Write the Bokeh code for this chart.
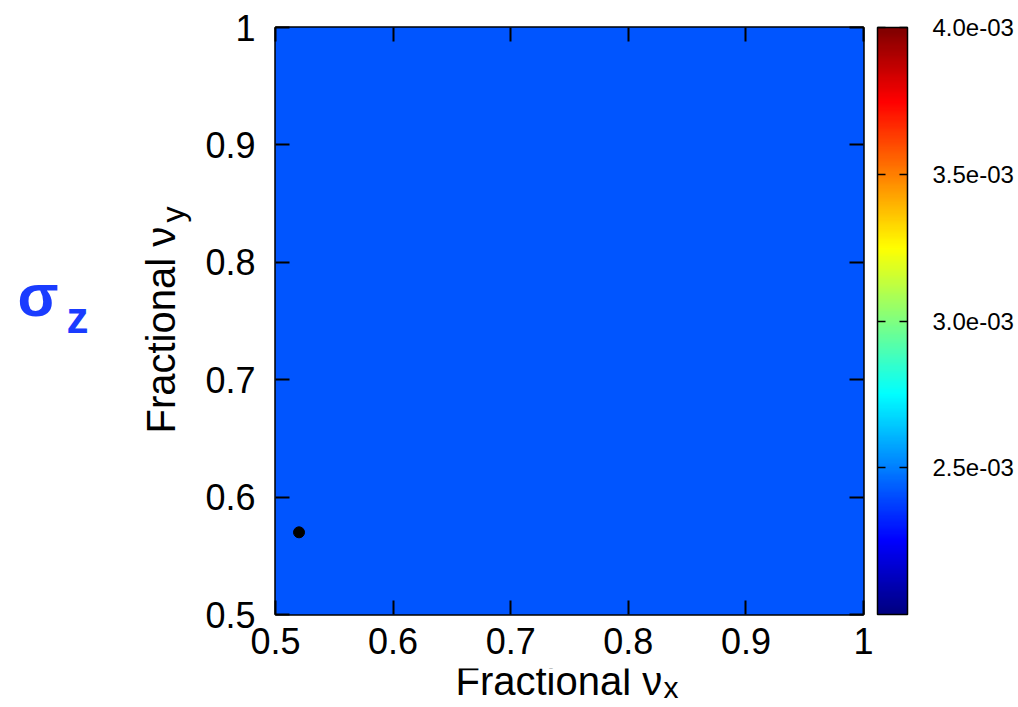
import numpy as np
from bokeh.plotting import figure
from bokeh.layouts import row, column
from bokeh.models import (LinearColorMapper, ColorBar, FixedTicker, LinearAxis,
                          CustomJSTickFormatter, Range1d, ColumnDataSource)
from bokeh.core.properties import value
from bokeh.embed import file_html
from bokeh.resources import INLINE

# Fractional tune scan window
nu_x_bounds = [0.5, 1.0]
nu_y_bounds = [0.5, 1.0]
tune_ticks = [0.5, 0.6, 0.7, 0.8, 0.9, 1.0]

# Bunch length sigma_z over the scan: flat across the whole tune window
grid_n = 40
sigma_z_level = 2.42e-3
sigma_z_map = np.full((grid_n, grid_n), sigma_z_level)

# colour scale
cbar_low = 2.0e-3
cbar_high = 4.0e-3
cbar_ticks = [2.5e-3, 3.0e-3, 3.5e-3, 4.0e-3]

# working point
wp_nu_x = [0.52]
wp_nu_y = [0.57]

FONT = "Liberation Sans"
TAG_BLUE = "#1a3cff"

# page geometry (pixels)
PAGE_H = 707
LEFT_W = 200          # strip holding the tag and the vertical title
MAIN_W = 818
MAIN_H = 668
STRIP_H = PAGE_H - MAIN_H
FRAME_L, FRAME_R = 275, 863   # horizontal extent of the heat-map frame on the page
DROP = 0.42           # rendered alphabetic baseline sits this many em lower


def jet_palette(n=256):
    cols = []
    for i in range(n):
        f = i / (n - 1)
        r = min(max(1.5 - abs(4 * f - 3), 0.0), 1.0)
        g = min(max(1.5 - abs(4 * f - 2), 0.0), 1.0)
        b = min(max(1.5 - abs(4 * f - 1), 0.0), 1.0)
        cols.append("#%02x%02x%02x" % (round(r * 255), round(g * 255), round(b * 255)))
    return cols


def text_panel(w, h, x_range):
    f = figure(width=w, height=h, x_range=x_range, y_range=Range1d(0, h),
               min_border=0, output_backend="svg", toolbar_location=None,
               x_axis_location=None, y_axis_location=None)
    f.grid.visible = False
    f.outline_line_color = None
    f.background_fill_color = "white"
    f.border_fill_color = "white"
    return f


def base(pos, size):
    """Baseline coordinate to request so the glyphs land on pixel `pos`."""
    return pos - DROP * size


mapper = LinearColorMapper(palette=jet_palette(), low=cbar_low, high=cbar_high)

# ---- main heat map ----
p = figure(width=MAIN_W, height=MAIN_H,
           x_range=Range1d(*nu_x_bounds), y_range=Range1d(*nu_y_bounds),
           min_border_left=FRAME_L - LEFT_W, min_border_top=27,
           min_border_bottom=MAIN_H - 27 - 587, min_border_right=155,
           output_backend="svg", toolbar_location=None,
           x_axis_location=None, y_axis_location=None)
p.grid.visible = False
p.background_fill_color = "white"
p.border_fill_color = "white"
p.outline_line_color = "black"
p.outline_line_width = 2.5

p.image(image=[sigma_z_map], x=nu_x_bounds[0], y=nu_y_bounds[0],
        dw=nu_x_bounds[1] - nu_x_bounds[0], dh=nu_y_bounds[1] - nu_y_bounds[0],
        color_mapper=mapper)

p.scatter(wp_nu_x, wp_nu_y, size=11, color="black")

tick_fmt = CustomJSTickFormatter(code="return tick >= 0.999 ? '1' : tick.toFixed(1);")
blank_fmt = CustomJSTickFormatter(code="return '\\u00a0';")


def make_axis(labelled, standoff):
    ax = LinearAxis(ticker=FixedTicker(ticks=tune_ticks),
                    formatter=tick_fmt if labelled else blank_fmt)
    ax.axis_line_color = None
    ax.major_tick_in = 14
    ax.major_tick_out = 0
    ax.major_tick_line_color = "black"
    ax.major_tick_line_width = 2
    ax.minor_tick_line_color = None
    ax.major_label_text_font = FONT
    ax.major_label_text_color = "black"
    ax.major_label_text_font_size = "36px" if labelled else "1px"
    ax.major_label_standoff = standoff
    return ax


p.add_layout(make_axis(True, 13), "below")
p.add_layout(make_axis(True, 20), "left")
p.add_layout(make_axis(False, 0), "above")
p.add_layout(make_axis(False, 11), "right")

cbar_fmt = CustomJSTickFormatter(
    code="var s = tick.toExponential(1); return s.replace(/e([+-])(\\d)$/, 'e$10$2');")
cbar = ColorBar(color_mapper=mapper, ticker=FixedTicker(ticks=cbar_ticks),
                formatter=cbar_fmt, width=30, height=587,
                location="top_left", margin=0, padding=0,
                label_standoff=25,
                major_label_text_font=FONT, major_label_text_font_size="24px",
                major_label_text_color="black",
                major_tick_in=30, major_tick_out=0,
                major_tick_line_color="black", major_tick_line_width=1.5,
                major_tick_line_dash="8 14",
                minor_tick_line_color=None,
                bar_line_color="black", bar_line_width=1.5,
                background_fill_color=None, border_line_color=None)
p.add_layout(cbar, "right")

# ---- left strip: quantity tag and vertical axis title ----
left = text_panel(LEFT_W, PAGE_H, Range1d(0, LEFT_W))
tag_src = ColumnDataSource(dict(
    x=[17, 66],
    y=[PAGE_H - base(320, 60), PAGE_H - base(335, 44)],
    text=["\u03c3", "z"],
    size=["60px", "44px"],
))
left.text(x="x", y="y", text="text", text_font_size="size", source=tag_src,
          text_font=value(FONT), text_color=TAG_BLUE, text_font_style="bold",
          text_align="left", text_baseline="alphabetic")

ytitle_src = ColumnDataSource(dict(
    x=[base(177, 40), base(186, 32)],
    y=[PAGE_H - 433, PAGE_H - 222],
    text=["Fractional \u03bd", "y"],
    size=["40px", "32px"],
))
left.text(x="x", y="y", text="text", text_font_size="size", source=ytitle_src,
          angle=np.pi / 2, text_font=value(FONT), text_color="black",
          text_align="left", text_baseline="alphabetic")

# ---- bottom strip: horizontal axis title (its frame lines up with the heat map's) ----
bottom = text_panel(MAIN_W, STRIP_H, Range1d(FRAME_L, FRAME_R))
xtitle_src = ColumnDataSource(dict(
    x=[455, 663],
    y=[PAGE_H - base(697, 40), PAGE_H - base(700, 30)],
    text=["Fractional \u03bd", "x"],
    size=["40px", "30px"],
))
bottom.text(x="x", y="y", text="text", text_font_size="size", source=xtitle_src,
            text_font=value(FONT), text_color="black",
            text_align="left", text_baseline="alphabetic")

page = row(left, column(p, bottom, spacing=0), spacing=0)

open("out.html", "w").write(file_html(page, INLINE))
